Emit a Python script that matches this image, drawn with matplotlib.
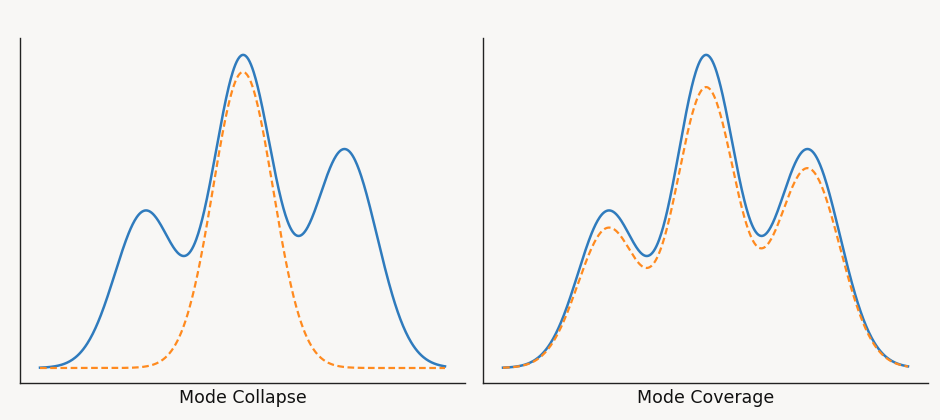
import numpy as np
import matplotlib.pyplot as plt

# Mixture component parameters
means = [145, 243, 345]
sigmas = [30, 30, 32]
blue_amps = [156, 311, 218]
collapse_amps = [0, 296, 0]
coverage_amps = [139, 279, 199]
titles = ["Mode Collapse", "Mode Coverage"]

x = np.linspace(40, 445, 600)
def mix(amps):
    return sum(a * np.exp(-(x - m) ** 2 / (2 * s ** 2)) for a, m, s in zip(amps, means, sigmas))

bg = "#f8f7f5"
fig = plt.figure(figsize=(9.4, 4.2), dpi=100, facecolor=bg)
axes_pos = [[20/940, 37/420, 445/940, 345/420], [483/940, 37/420, 445/940, 345/420]]
for pos, oamps, title in zip(axes_pos, [collapse_amps, coverage_amps], titles):
    ax = fig.add_axes(pos, facecolor=bg)
    ax.plot(x, mix(blue_amps), color="#2f7bbd", lw=1.8)
    ax.plot(x, mix(oamps), color="#ff8a1f", lw=1.6, ls=(0, (3, 1.6)))
    ax.set_xlim(20, 465)
    ax.set_ylim(-15, 330)
    ax.set_xticks([]); ax.set_yticks([])
    for s in ["top", "right"]:
        ax.spines[s].set_visible(False)
    for s in ["left", "bottom"]:
        ax.spines[s].set_color("#222222"); ax.spines[s].set_linewidth(1.0)
    ax.set_xlabel(title, fontsize=12.5, labelpad=4, color="#111111")

fig.savefig("out.png", dpi=100, facecolor=bg)
